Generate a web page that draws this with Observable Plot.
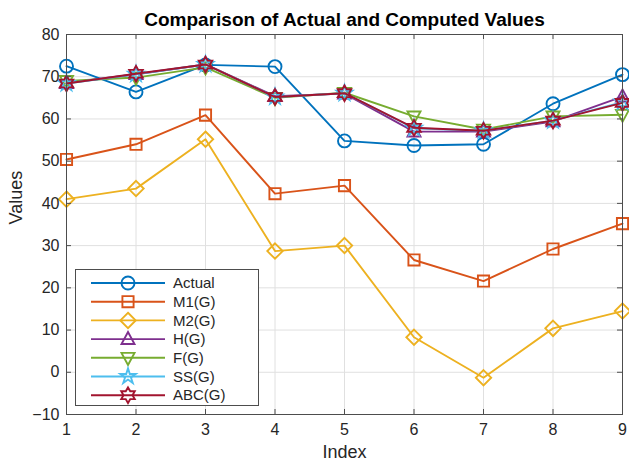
<!DOCTYPE html>
<html>
<head>
<meta charset="utf-8">
<script src="https://cdn.jsdelivr.net/npm/d3@7"></script>
<script src="https://cdn.jsdelivr.net/npm/@observablehq/plot@0.6"></script>
<style>
  body { margin: 0; background: #fff; }
  #chart { position: relative; width: 629px; height: 461px; font-family: "Liberation Sans", Arial, sans-serif; }
  #legend { position: absolute; left: 75px; top: 269px; }
</style>
</head>
<body>
<div id="chart"></div>
<script>
// Index positions and tick values
const indices = [1, 2, 3, 4, 5, 6, 7, 8, 9];
const xTicks = [1, 2, 3, 4, 5, 6, 7, 8, 9];
const yTicks = [-10, 0, 10, 20, 30, 40, 50, 60, 70, 80];

// Series values
const actual = [72.5, 66.4, 72.8, 72.4, 54.8, 53.7, 54.0, 63.6, 70.5];
const m1G    = [50.4, 54.0, 60.9, 42.3, 44.2, 26.6, 21.6, 29.2, 35.2];
const m2G    = [41.0, 43.5, 55.2, 28.7, 30.0, 8.3, -1.3, 10.4, 14.5];
const hG     = [68.5, 70.6, 72.9, 65.4, 66.0, 57.0, 57.0, 59.4, 65.3];
const fG     = [69.0, 69.8, 72.2, 65.0, 66.2, 60.6, 57.5, 60.6, 61.0];
const ssG    = [68.4, 70.6, 72.9, 65.2, 66.1, 57.8, 57.2, 59.6, 64.0];
const abcG   = [68.4, 70.7, 72.9, 65.2, 66.1, 57.9, 57.2, 59.6, 63.8];

const seriesNames = ["Actual", "M1(G)", "M2(G)", "H(G)", "F(G)", "SS(G)", "ABC(G)"];
const seriesValues = [actual, m1G, m2G, hG, fG, ssG, abcG];

// Line colours
const colors = ["#0072BD", "#D95319", "#EDB120", "#7E2F8E", "#77AC30", "#4DBEEE", "#A2142F"];

// Outline marker shapes (d3 symbol-type objects)
const rOf = size => Math.sqrt(size / Math.PI);
function polygon(ctx, pts) {
  ctx.moveTo(pts[0][0], pts[0][1]);
  for (let i = 1; i < pts.length; i++) ctx.lineTo(pts[i][0], pts[i][1]);
  ctx.closePath();
}
function star(ctx, n, ro, ri) {
  const pts = [];
  for (let i = 0; i < 2 * n; i++) {
    const a = -Math.PI / 2 + i * Math.PI / n;
    const rr = i % 2 === 0 ? ro : ri;
    pts.push([rr * Math.cos(a), rr * Math.sin(a)]);
  }
  polygon(ctx, pts);
}
const symCircle   = { draw(ctx, size) { const r = rOf(size); ctx.moveTo(r, 0); ctx.arc(0, 0, r, 0, 2 * Math.PI); } };
const symSquare   = { draw(ctx, size) { const h = rOf(size) * 0.86; polygon(ctx, [[-h, -h], [h, -h], [h, h], [-h, h]]); } };
const symDiamond  = { draw(ctx, size) { const h = rOf(size) * 1.18; polygon(ctx, [[0, -h], [h, 0], [0, h], [-h, 0]]); } };
const symTriUp    = { draw(ctx, size) { const r = rOf(size); polygon(ctx, [[0, -1.1 * r], [r, 0.75 * r], [-r, 0.75 * r]]); } };
const symTriDown  = { draw(ctx, size) { const r = rOf(size); polygon(ctx, [[0, 1.1 * r], [r, -0.75 * r], [-r, -0.75 * r]]); } };
const symPenta    = { draw(ctx, size) { const r = rOf(size) * 1.25; star(ctx, 5, r, r * 0.382); } };
const symHexa     = { draw(ctx, size) { const r = rOf(size) * 1.2; star(ctx, 6, r, r / Math.sqrt(3)); } };
const symbols = [symCircle, symSquare, symDiamond, symTriUp, symTriDown, symPenta, symHexa];

const series = seriesNames.map((name, i) => ({
  name,
  color: colors[i],
  symbol: symbols[i],
  rows: indices.map((x, j) => ({ index: x, value: seriesValues[i][j] }))
}));

const W = 629, H = 461, mL = 66, mR = 7, mT = 34, mB = 47;
const fw = W - mL - mR, fh = H - mT - mB;
const axisColor = "#4d4d4d";
const gridColor = "#e0e0e0";
const markerR = 6.5;

const marks = [
  Plot.gridX(xTicks, { stroke: gridColor, strokeOpacity: 1 }),
  Plot.gridY(yTicks, { stroke: gridColor, strokeOpacity: 1 })
];
for (const s of series) {
  marks.push(Plot.line(s.rows, { x: "index", y: "value", stroke: s.color, strokeWidth: 1.9 }));
  marks.push(Plot.dot(s.rows, { x: "index", y: "value", stroke: s.color, symbol: s.symbol, r: markerR, strokeWidth: 1.9, fill: "none" }));
}
marks.push(
  Plot.frame({ stroke: axisColor, strokeWidth: 1 }),
  // inward tick marks on all four sides
  Plot.tickX(xTicks, { x: d => d, insetTop: fh - 5, stroke: axisColor }),
  Plot.tickX(xTicks, { x: d => d, insetBottom: fh - 5, stroke: axisColor }),
  Plot.tickY(yTicks, { y: d => d, insetRight: fw - 5, stroke: axisColor }),
  Plot.tickY(yTicks, { y: d => d, insetLeft: fw - 5, stroke: axisColor }),
  Plot.axisX(xTicks, { tickSize: 0, tickPadding: 9, label: null, fill: "#262626", fontSize: 16 }),
  Plot.axisY(yTicks, { tickSize: 0, tickPadding: 7, label: null, fill: "#262626", fontSize: 16 }),
  Plot.text(["Comparison of Actual and Computed Values"], {
    text: d => d, frameAnchor: "top", dy: -15, lineAnchor: "middle",
    fontSize: 19, fontWeight: "bold", fill: "#000"
  }),
  Plot.text(["Index"], {
    text: d => d, frameAnchor: "bottom", dy: 38, lineAnchor: "middle",
    fontSize: 18, fill: "#262626"
  }),
  Plot.text(["Values"], {
    text: d => d, frameAnchor: "left", dx: -50, rotate: -90, lineAnchor: "middle",
    fontSize: 18, fill: "#262626"
  })
);

const chart = Plot.plot({
  width: W, height: H,
  marginLeft: mL, marginRight: mR, marginTop: mT, marginBottom: mB,
  x: { domain: [1, 9] },
  y: { domain: [-10, 80] },
  style: { fontSize: "16px", fontFamily: "'Liberation Sans', Arial, sans-serif", background: "#fff", overflow: "visible" },
  marks
});
const host = document.getElementById("chart");
host.appendChild(chart);

// Legend box in the lower-left corner of the plot area
const lw = 184, lh = 137;
const legend = d3.select(host).append("svg")
  .attr("id", "legend").attr("width", lw).attr("height", lh)
  .style("font-family", "'Liberation Sans', Arial, sans-serif");
legend.append("rect").attr("x", 0.5).attr("y", 0.5).attr("width", lw - 1).attr("height", lh - 1)
  .attr("fill", "#fff").attr("stroke", axisColor);
series.forEach((s, i) => {
  const g = legend.append("g").attr("transform", `translate(0,${14 + i * 18.7})`);
  g.append("line").attr("x1", 16).attr("x2", 90).attr("stroke", s.color).attr("stroke-width", 1.9);
  g.append("path").attr("transform", "translate(53,0)")
    .attr("d", d3.symbol(s.symbol, Math.PI * markerR * markerR)())
    .attr("fill", "none").attr("stroke", s.color).attr("stroke-width", 1.9);
  g.append("text").attr("x", 98).attr("dy", "0.35em").attr("font-size", 15).attr("fill", "#262626").text(s.name);
});
</script>
</body>
</html>
